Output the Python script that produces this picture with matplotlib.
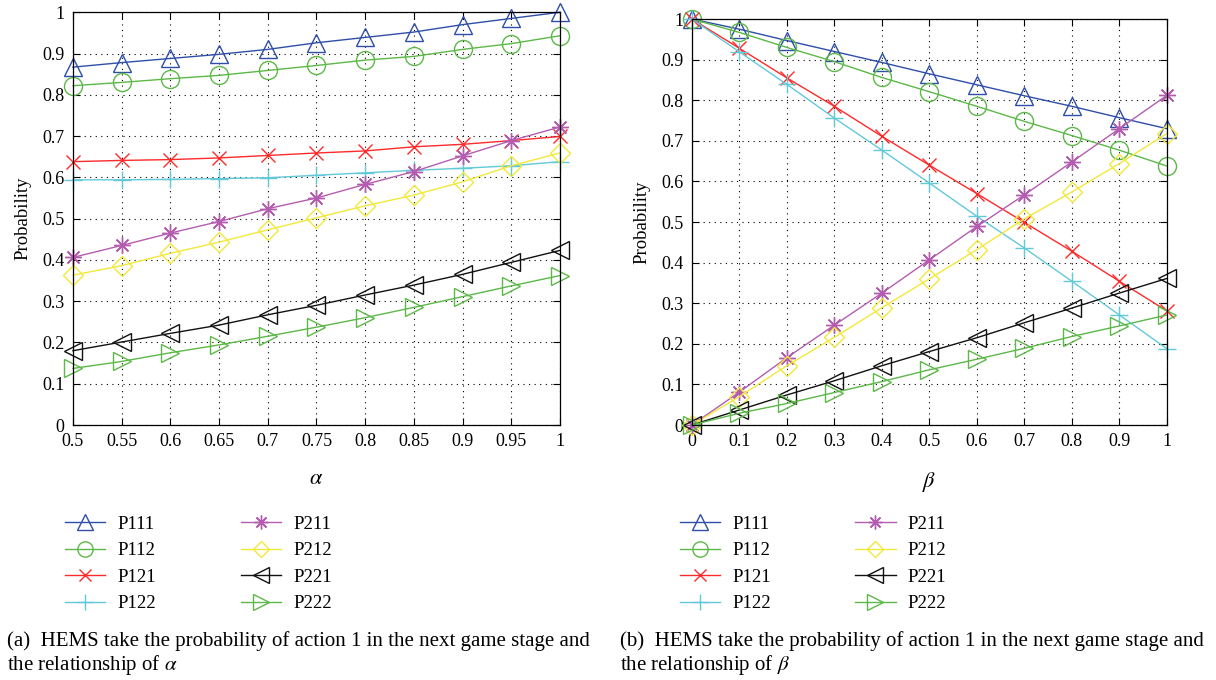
import matplotlib
matplotlib.use('Agg')
import matplotlib.pyplot as plt
from matplotlib.lines import Line2D

plt.rcParams['font.family'] = ['Liberation Serif', 'DejaVu Serif']
plt.rcParams['mathtext.fontset'] = 'stix'

# (a) probability vs alpha
alpha = [0.5, 0.55, 0.6, 0.65, 0.7, 0.75, 0.8, 0.85, 0.9, 0.95, 1.0]
a_p111 = [0.867, 0.878, 0.888, 0.898, 0.910, 0.926, 0.939, 0.952, 0.970, 0.985, 1.0]
a_p112 = [0.822, 0.830, 0.839, 0.847, 0.859, 0.871, 0.884, 0.893, 0.910, 0.924, 0.943]
a_p121 = [0.638, 0.641, 0.643, 0.647, 0.653, 0.659, 0.664, 0.674, 0.680, 0.689, 0.699]
a_p122 = [0.594, 0.594, 0.595, 0.597, 0.599, 0.605, 0.611, 0.617, 0.622, 0.628, 0.638]
a_p211 = [0.406, 0.435, 0.465, 0.493, 0.524, 0.550, 0.583, 0.614, 0.652, 0.689, 0.722]
a_p212 = [0.363, 0.386, 0.416, 0.443, 0.473, 0.502, 0.531, 0.557, 0.589, 0.628, 0.659]
a_p221 = [0.180, 0.201, 0.222, 0.242, 0.267, 0.290, 0.315, 0.339, 0.365, 0.394, 0.423]
a_p222 = [0.137, 0.154, 0.175, 0.194, 0.215, 0.237, 0.260, 0.285, 0.311, 0.337, 0.362]

# (b) probability vs beta
beta = [0.0, 0.1, 0.2, 0.3, 0.4, 0.5, 0.6, 0.7, 0.8, 0.9, 1.0]
b_p111 = [1.0, 0.975, 0.947, 0.920, 0.893, 0.865, 0.838, 0.811, 0.785, 0.757, 0.730]
b_p112 = [1.0, 0.967, 0.930, 0.895, 0.856, 0.821, 0.785, 0.748, 0.713, 0.677, 0.638]
b_p121 = [1.0, 0.928, 0.855, 0.785, 0.711, 0.640, 0.570, 0.499, 0.428, 0.354, 0.281]
b_p122 = [1.0, 0.919, 0.839, 0.756, 0.677, 0.596, 0.514, 0.436, 0.354, 0.271, 0.188]
b_p211 = [0.0, 0.081, 0.166, 0.246, 0.325, 0.407, 0.489, 0.567, 0.648, 0.730, 0.812]
b_p212 = [0.0, 0.070, 0.146, 0.216, 0.289, 0.360, 0.432, 0.508, 0.574, 0.644, 0.718]
b_p221 = [0.0, 0.037, 0.074, 0.109, 0.146, 0.181, 0.215, 0.252, 0.288, 0.325, 0.361]
b_p222 = [0.0, 0.029, 0.053, 0.080, 0.107, 0.136, 0.162, 0.189, 0.218, 0.244, 0.271]

names = ['P111', 'P112', 'P121', 'P122', 'P211', 'P212', 'P221', 'P222']
colors = ['#2f4ea8', '#5cb848', '#ff2a2a', '#62c9d9', '#b45db0', '#f2e83a', '#111111', '#5cb848']
markers = ['^', 'o', 'x', '+', (8, 2, 0), 'D', '<', '>']
msizes = [13, 13, 10, 13, 12, 10, 13, 13]

fig = plt.figure(figsize=(12.16, 6.8), dpi=100)
ax1 = fig.add_axes([0.060, 0.375, 0.4005, 0.607])
ax2 = fig.add_axes([0.569, 0.375, 0.3906, 0.597])


def draw(ax, x, series, xticks, xlabels, xlab):
    for i, y in enumerate(series):
        ax.plot(x, y, color=colors[i], marker=markers[i], ms=msizes[i],
                mfc='none', mec=colors[i], mew=1.0, lw=1.0, clip_on=False)
    ax.set_xlim(x[0], x[-1])
    ax.set_ylim(0, 1)
    ax.set_xticks(xticks)
    ax.set_xticklabels(xlabels)
    yt = [i / 10 for i in range(11)]
    ax.set_yticks(yt)
    ax.set_yticklabels(['0'] + ['%.1f' % v for v in yt[1:-1]] + ['1'])
    ax.tick_params(direction='in', top=True, right=True, length=5,
                   labelsize=13, pad=6)
    ax.grid(True, color='black', linestyle=(0, (1, 4)), linewidth=0.8)
    for s in ax.spines.values():
        s.set_linewidth(0.9)
    ax.set_ylabel('Probability', fontsize=13.5, labelpad=8)
    ax.set_xlabel(xlab, fontsize=16, labelpad=14)


draw(ax1, alpha, [a_p111, a_p112, a_p121, a_p122, a_p211, a_p212, a_p221, a_p222],
     alpha, ['0.5', '0.55', '0.6', '0.65', '0.7', '0.75', '0.8', '0.85', '0.9', '0.95', '1'],
     r'$\alpha$')
draw(ax2, beta, [b_p111, b_p112, b_p121, b_p122, b_p211, b_p212, b_p221, b_p222],
     beta, ['0', '0.1', '0.2', '0.3', '0.4', '0.5', '0.6', '0.7', '0.8', '0.9', '1'],
     r'$\beta$')

handles = [Line2D([], [], color=colors[i], marker=markers[i], ms=msizes[i] - 2,
                  mfc='none', mec=colors[i], lw=1.0) for i in range(8)]
for xpos in [0.0535, 0.559]:
    fig.legend(handles, names, loc='upper left', bbox_to_anchor=(xpos, 0.242),
               ncol=2, frameon=False, fontsize=13.5, handlelength=2.15,
               columnspacing=4.5, labelspacing=0.5, handletextpad=0.65,
               borderpad=0, borderaxespad=0)

fig.text(0.006, 0.004, '(a)  HEMS take the probability of action 1 in the next game stage and\n'
         r'the relationship of $\alpha$', fontsize=15, va='bottom', linespacing=1.15)
fig.text(0.510, 0.004, '(b)  HEMS take the probability of action 1 in the next game stage and\n'
         r'the relationship of $\beta$', fontsize=15, va='bottom', linespacing=1.15)

fig.savefig('out.png', dpi=100)
